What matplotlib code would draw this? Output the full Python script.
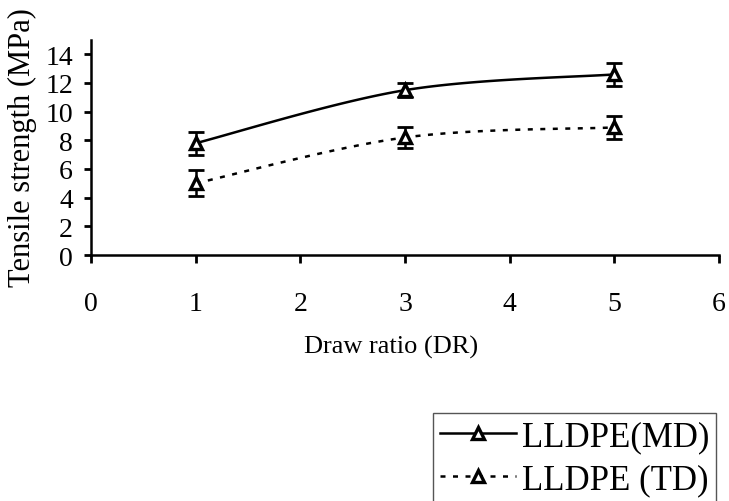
import numpy as np
import matplotlib
matplotlib.use("Agg")
import matplotlib.pyplot as plt
from matplotlib.lines import Line2D

# Tensile strength vs draw ratio for LLDPE films
draw_ratio = [1, 3, 5]
md_strength = [7.8, 11.5, 12.6]
md_error = [0.8, 0.5, 0.8]
td_strength = [5.0, 8.2, 8.9]
td_error = [0.9, 0.7, 0.8]

series_labels = ["LLDPE(MD)", "LLDPE (TD)"]
x_ticks = [0, 1, 2, 3, 4, 5, 6]
y_ticks = [0, 2, 4, 6, 8, 10, 12, 14]

plt.rcParams["font.family"] = ["Liberation Serif", "DejaVu Serif"]


def smooth_curve(xs, ys, n=40):
    """Piecewise cubic Bezier through the points (spreadsheet-style smoothing)."""
    pts = np.column_stack([xs, ys]).astype(float)
    ext = np.vstack([pts[0], pts, pts[-1]])
    out = []
    t = np.linspace(0, 1, n)[:, None]
    for i in range(len(pts) - 1):
        p0, p3 = ext[i + 1], ext[i + 2]
        c1 = p0 + (ext[i + 2] - ext[i]) / 6.0
        c2 = p3 - (ext[i + 3] - ext[i + 1]) / 6.0
        seg = ((1 - t) ** 3) * p0 + 3 * ((1 - t) ** 2) * t * c1 + 3 * (1 - t) * t ** 2 * c2 + t ** 3 * p3
        out.append(seg if i == 0 else seg[1:])
    seg = np.vstack(out)
    return seg[:, 0], seg[:, 1]


fig = plt.figure(figsize=(7.29, 5.02), dpi=100)
ax = fig.add_axes([91 / 729, 1 - 256 / 502, (719 - 91) / 729, (256 - 41) / 502])

dot_style = (0, (2.0, 3.0))
marker_kw = dict(marker="^", markersize=9, markerfacecolor="white",
                 markeredgecolor="black", markeredgewidth=2.4)

for ys, errs, ls in [(md_strength, md_error, "-"), (td_strength, td_error, dot_style)]:
    sx, sy = smooth_curve(draw_ratio, ys)
    ax.plot(sx, sy, color="black", lw=1.8, linestyle=ls, zorder=2)
    ax.errorbar(draw_ratio, ys, yerr=errs, fmt="none", ecolor="black",
                elinewidth=1.8, capsize=6, capthick=2, zorder=3)
    ax.plot(draw_ratio, ys, linestyle="none", zorder=4, **marker_kw)

ax.set_xlim(0, 6)
ax.set_ylim(0, 15)
ax.set_xticks(x_ticks)
ax.set_yticks(y_ticks)
ax.set_xticklabels([str(v) for v in x_ticks])
ax.set_yticklabels([str(v) for v in y_ticks])

for side in ["top", "right"]:
    ax.spines[side].set_visible(False)
for side in ["left", "bottom"]:
    ax.spines[side].set_linewidth(1.8)

ax.tick_params(axis="x", direction="out", length=6, width=2, pad=20, labelsize=20)
ax.tick_params(axis="y", direction="out", length=5, width=2, pad=8, labelsize=20)

ax.set_xlabel("Draw ratio (DR)", fontsize=19)
ax.xaxis.set_label_coords((391 - 91) / 628, -(336 - 256) / 215)
ax.set_ylabel("Tensile strength (MPa)", fontsize=22)
ax.yaxis.set_label_coords(-(91 - 37) / 628, (256 - 148) / 215)

handles = [
    Line2D([0], [0], color="black", lw=1.8, linestyle="-", **{**marker_kw, "markersize": 8}),
    Line2D([0], [0], color="black", lw=1.8, linestyle=dot_style, **{**marker_kw, "markersize": 8}),
]
fig.legend(handles, series_labels, loc="upper left",
           bbox_to_anchor=(433 / 729, 1 - 414 / 502), fontsize=25,
           frameon=True, fancybox=False, edgecolor="#555555", framealpha=1,
           handlelength=2.2, handletextpad=0.15, borderpad=0.2,
           labelspacing=0.3, borderaxespad=0)

fig.savefig("out.png", dpi=100)
